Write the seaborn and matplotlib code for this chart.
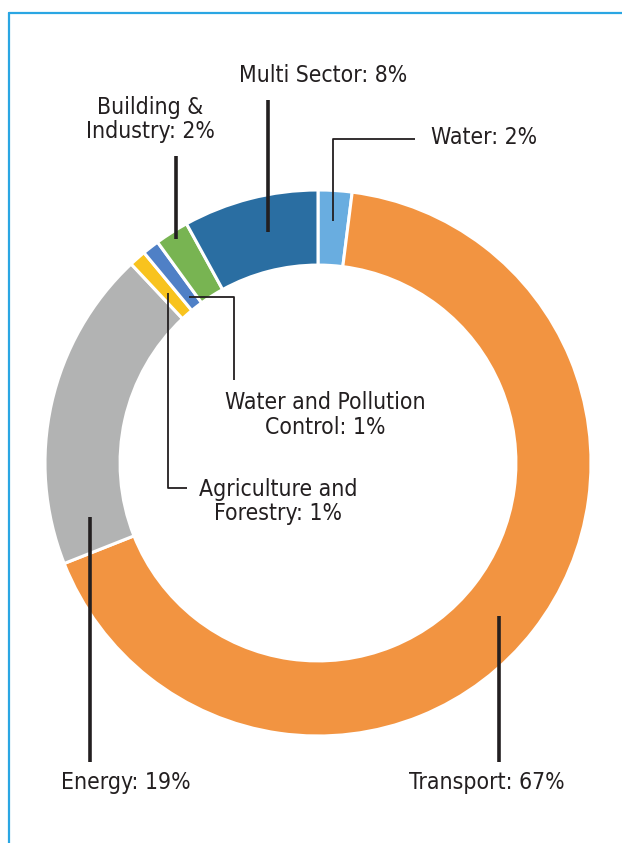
import matplotlib
matplotlib.use("Agg")
import matplotlib.pyplot as plt
import seaborn as sns
import numpy as np
from matplotlib.lines import Line2D

# ---- data ----
sectors = ["Water", "Transport", "Energy", "Agriculture and\nForestry",
           "Water and Pollution\nControl", "Building &\nIndustry", "Multi Sector"]
shares = [2, 67, 19, 1, 1, 2, 8]
colors = ["#69ade0", "#f29441", "#b2b3b3", "#f8c31e", "#4f80c6", "#78b452", "#2a6ea2"]

sns.set_theme(style="white")
plt.rcParams['font.family'] = ['DejaVu Sans']

W, H = 622, 843
fig = plt.figure(figsize=(W / 100, H / 100), dpi=100)
fig.patch.set_facecolor("white")

cx, cy, R = 318, 463, 273
ax = fig.add_axes([(cx - R) / W, (H - cy - R) / H, 2 * R / W, 2 * R / H])
wedges, _ = ax.pie(shares, colors=colors, startangle=90, counterclock=False, radius=1,
                   wedgeprops=dict(width=0.275, edgecolor="white", linewidth=2.2))
ax.set_xlim(-1, 1)
ax.set_ylim(-1, 1)
ax.axis("off")

TXT = dict(fontsize=16.5, color="#231f20", fontstretch="condensed", linespacing=1.1)
THICK = dict(color="#231f20", lw=2.6, solid_capstyle="butt", clip_on=False)
THIN = dict(color="#231f20", lw=1.3, solid_capstyle="butt", clip_on=False)


def anchor(i, frac=0.5, r=0.8625):
    w = wedges[i]
    ang = np.deg2rad(w.theta2 - frac * (w.theta2 - w.theta1))
    return r * np.cos(ang), r * np.sin(ang)


def label(i, pct):
    name = sectors[i]
    return f"{name}: {pct}%"

# Water
x0, y0 = anchor(0, 0.5, 0.89)
ax.plot([x0, x0, 0.355], [y0, 1.187, 1.187], **THIN)
ax.text(0.414, 1.194, label(0, shares[0]), ha="left", va="center", **TXT)

# Transport
x0, y0 = anchor(1, 0.51, 0.866)
ax.plot([x0, x0], [y0, -1.095], **THICK)
ax.text(0.617, -1.172, label(1, shares[1]), ha="center", va="center", **TXT)

# Energy
x0, y0 = anchor(2, 0.12, 0.86)
ax.plot([x0, x0], [y0, -1.095], **THICK)
ax.text(-0.705, -1.172, label(2, shares[2]), ha="center", va="center", **TXT)

# Agriculture and Forestry
x0, y0 = anchor(3, 0.5, 0.83)
ax.plot([x0, x0, -0.48], [y0, -0.092, -0.092], **THIN)
ax.text(-0.147, -0.141, label(3, shares[3]), ha="center", va="center", **TXT)

# Water and Pollution Control
x0, y0 = anchor(4, 0.5, 0.77)
ax.plot([x0, -0.308, -0.308], [y0, y0, 0.304], **THIN)
ax.text(0.026, 0.176, label(4, shares[4]), ha="center", va="center", **TXT)

# Building & Industry
x0, y0 = anchor(5, 0.5, 0.97)
ax.plot([x0, x0], [y0, 1.125], **THICK)
ax.text(-0.615, 1.258, label(5, shares[5]), ha="center", va="center", **TXT)

# Multi Sector
x0, y0 = anchor(6, 0.58, 0.866)
ax.plot([x0, x0], [y0, 1.33], **THICK)
ax.text(0.018, 1.418, label(6, shares[6]), ha="center", va="center", **TXT)

# frame lines (top and left)
bc = "#2aa6e3"
fig.add_artist(Line2D([9 / W, 1.0], [1 - 13 / H, 1 - 13 / H], color=bc, lw=1.6,
                      transform=fig.transFigure))
fig.add_artist(Line2D([9 / W, 9 / W], [1 - 13 / H, 0.0], color=bc, lw=1.6,
                      transform=fig.transFigure))

fig.savefig("out.png", dpi=100, facecolor="white")
